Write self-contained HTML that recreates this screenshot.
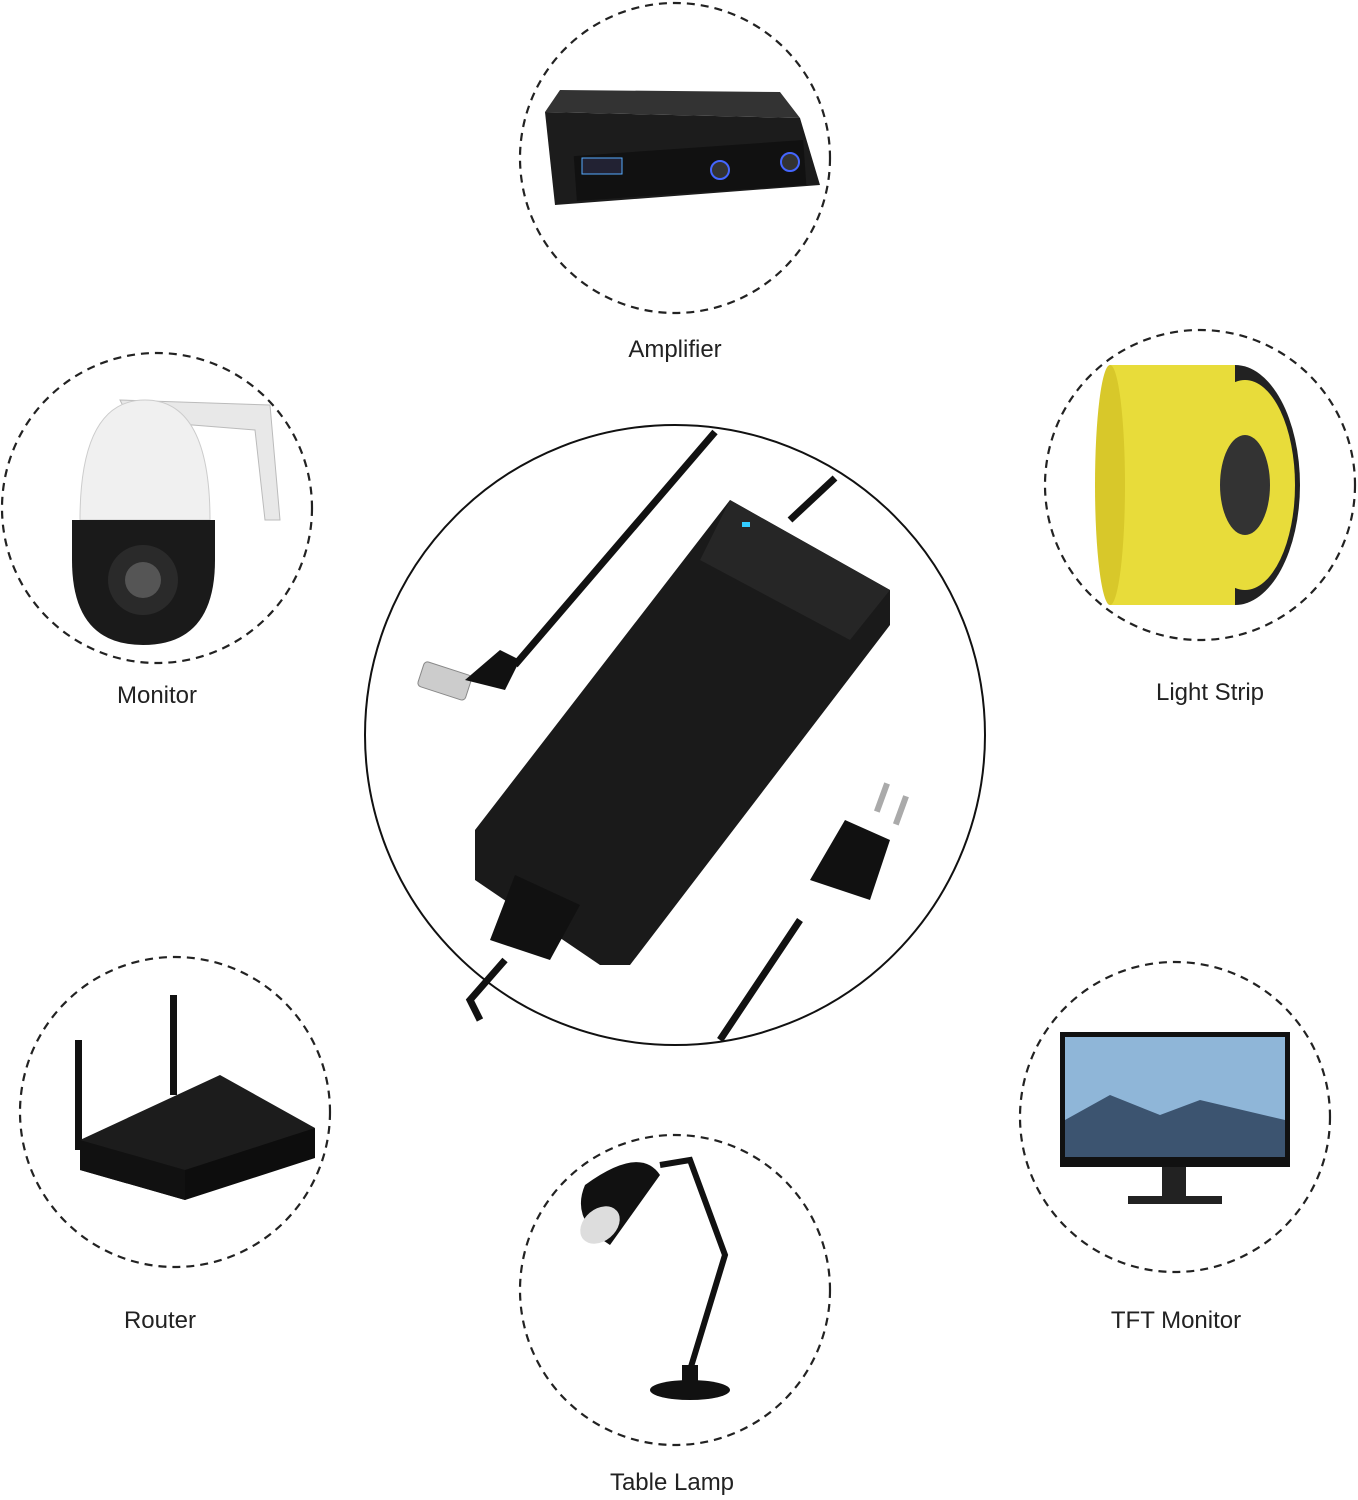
<!DOCTYPE html>
<html><head><meta charset="utf-8"><style>
html,body{margin:0;padding:0;background:#fff;}
svg{display:block}
text{font-family:"Liberation Sans",sans-serif;font-size:24px;fill:#222;text-anchor:middle}
</style></head><body>
<svg width="1358" height="1500" viewBox="0 0 1358 1500" xmlns="http://www.w3.org/2000/svg">
<g fill="none" stroke="#222" stroke-width="2.2" stroke-dasharray="8 6">
<circle cx="675" cy="158" r="155"/>
<circle cx="157" cy="508" r="155"/>
<circle cx="1200" cy="485" r="155"/>
<circle cx="175" cy="1112" r="155"/>
<circle cx="1175" cy="1117" r="155"/>
<circle cx="675" cy="1290" r="155"/>
</g>
<circle cx="675" cy="735" r="310" fill="none" stroke="#111" stroke-width="2"/>
<text x="675" y="357">Amplifier</text>
<text x="157" y="703">Monitor</text>
<text x="1210" y="700">Light Strip</text>
<text x="160" y="1328">Router</text>
<text x="1176" y="1328">TFT Monitor</text>
<text x="672" y="1490">Table Lamp</text>

<!-- amplifier -->
<polygon points="545,112 800,118 820,185 555,205" fill="#1c1c1c"/>
<polygon points="545,112 800,118 780,92 560,90" fill="#333"/>
<rect x="575" y="148" width="230" height="45" fill="#111" transform="rotate(-4 690 170)"/>
<rect x="582" y="158" width="40" height="16" fill="#223" stroke="#5af" stroke-width="1"/>
<circle cx="720" cy="170" r="9" fill="#333" stroke="#46f" stroke-width="2"/>
<circle cx="790" cy="162" r="9" fill="#333" stroke="#46f" stroke-width="2"/>

<!-- camera -->
<path d="M120 400 L270 405 L280 520 L265 520 L255 430 L130 420 Z" fill="#e8e8e8" stroke="#bbb"/>
<path d="M80 520 Q80 400 145 400 Q210 400 210 520 Z" fill="#f0f0f0" stroke="#ccc"/>
<path d="M72 520 L215 520 L215 560 Q215 645 143 645 Q72 645 72 560 Z" fill="#1a1a1a"/>
<circle cx="143" cy="580" r="35" fill="#2a2a2a"/><circle cx="143" cy="580" r="18" fill="#555"/>

<!-- light strip -->
<ellipse cx="1235" cy="485" rx="65" ry="120" fill="#222"/>
<rect x="1110" y="365" width="125" height="240" fill="#e8dc3a"/>
<ellipse cx="1110" cy="485" rx="15" ry="120" fill="#d8c82a"/>
<ellipse cx="1245" cy="485" rx="50" ry="105" fill="#e8dc3a"/>
<ellipse cx="1245" cy="485" rx="25" ry="50" fill="#333"/>

<!-- adapter -->
<g>
<path d="M515 665 L715 432" stroke="#111" stroke-width="7" fill="none"/>
<path d="M790 520 L835 478" stroke="#111" stroke-width="7" fill="none"/>
<rect x="420" y="668" width="50" height="26" rx="4" fill="#ccc" stroke="#888" transform="rotate(18 445 680)"/>
<path d="M465 680 L505 690 L520 660 L500 650 Z" fill="#111"/>
<polygon points="730,500 890,590 890,625 630,965 600,965 475,880 475,830" fill="#1a1a1a"/>
<polygon points="730,500 890,590 850,640 700,560" fill="#262626"/>
<rect x="742" y="522" width="8" height="5" fill="#3cf"/>
<path d="M505 960 L470 1000 L480 1020" stroke="#111" stroke-width="7" fill="none"/>
<polygon points="515,875 580,905 550,960 490,940" fill="#111"/>
<path d="M800 920 L720 1040" stroke="#111" stroke-width="7" fill="none"/>
<polygon points="845,820 890,840 870,900 810,880" fill="#111"/>
<rect x="878" y="782" width="6" height="30" fill="#aaa" transform="rotate(20 880 800)"/>
<rect x="898" y="795" width="6" height="30" fill="#aaa" transform="rotate(20 900 810)"/>
</g>

<!-- router -->
<rect x="75" y="1040" width="7" height="110" fill="#111"/>
<rect x="170" y="995" width="7" height="100" fill="#111"/>
<polygon points="80,1140 220,1075 315,1128 185,1200 80,1170" fill="#1c1c1c"/>
<polygon points="80,1140 185,1170 185,1200 80,1170" fill="#111"/>
<polygon points="185,1170 315,1128 315,1158 185,1200" fill="#0d0d0d"/>

<!-- TFT monitor -->
<rect x="1060" y="1032" width="230" height="135" fill="#111"/>
<rect x="1065" y="1037" width="220" height="120" fill="#8fb6d8"/>
<polygon points="1065,1120 1110,1095 1160,1115 1200,1100 1285,1120 1285,1157 1065,1157" fill="#3c5470"/>
<rect x="1162" y="1167" width="24" height="32" fill="#222"/>
<rect x="1128" y="1196" width="94" height="8" fill="#222"/>

<!-- lamp -->
<path d="M585 1185 Q640 1145 660 1175 L610 1245 Q570 1220 585 1185 Z" fill="#111"/>
<ellipse cx="600" cy="1225" rx="22" ry="16" fill="#ddd" transform="rotate(-40 600 1225)"/>
<path d="M660 1165 L690 1160 L725 1255 L690 1370" stroke="#111" stroke-width="6" fill="none"/>
<ellipse cx="690" cy="1390" rx="40" ry="10" fill="#111"/>
<rect x="682" y="1365" width="16" height="25" fill="#111"/>
</svg>
</body></html>
